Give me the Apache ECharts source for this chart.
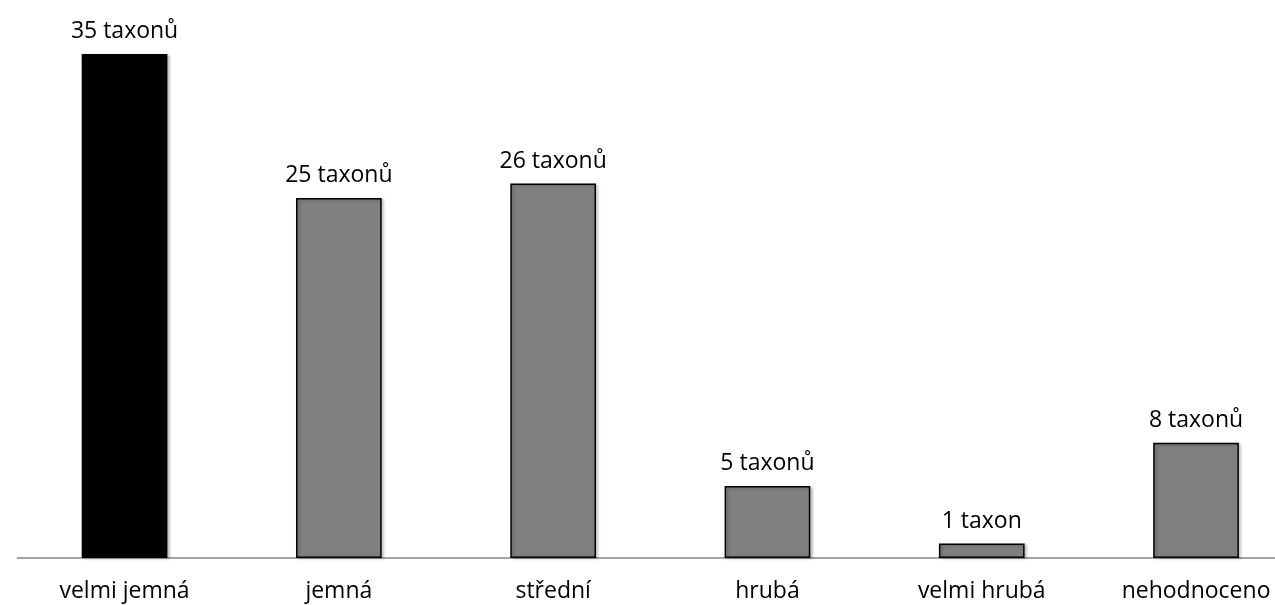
<!DOCTYPE html>
<html><head><meta charset="utf-8">
<script src="https://cdn.jsdelivr.net/npm/echarts@6/dist/echarts.min.js"></script>
<style>html,body{margin:0;padding:0;background:#fff;overflow:hidden;width:1275px;height:605px}#c{width:1304px;height:605px}</style>
</head><body><div id="c"></div>
<script>
const categories = ['velmi jemná','jemná','střední','hrubá','velmi hrubá','nehodnoceno'];
const values = [35, 25, 26, 5, 1, 8];
const labels = ['35 taxonů','25 taxonů','26 taxonů','5 taxonů','1 taxon','8 taxonů'];
const highlightIndex = 0;

const chart = echarts.init(document.getElementById('c'));
chart.setOption({
  animation: false,
  grid: { left: 17.4, right: 0.8, top: 10.8, height: 547.2, containLabel: false },
  xAxis: {
    type: 'category', data: categories,
    axisLine: { lineStyle: { color: '#868686', width: 1.5 } },
    axisTick: { show: false },
    axisLabel: { color: '#000', fontSize: 23, fontFamily: 'Open Sans', margin: 22 }
  },
  yAxis: { type: 'value', min: 0, max: 38, show: false, splitLine: { show: false } },
  series: [{
    type: 'bar', barWidth: '40%',
    data: values.map((v, i) => ({
      value: v,
      itemStyle: { color: i === highlightIndex ? '#000' : '#808080' }
    })),
    itemStyle: { borderColor: '#000', borderWidth: 1.5, shadowColor: 'rgba(0,0,0,0.25)', shadowBlur: 3, shadowOffsetX: 2, shadowOffsetY: 1 },
    label: {
      show: true, position: 'top', distance: 11, color: '#000', fontSize: 23, fontFamily: 'Open Sans',
      formatter: p => labels[p.dataIndex]
    }
  }]
});
</script></body></html>
